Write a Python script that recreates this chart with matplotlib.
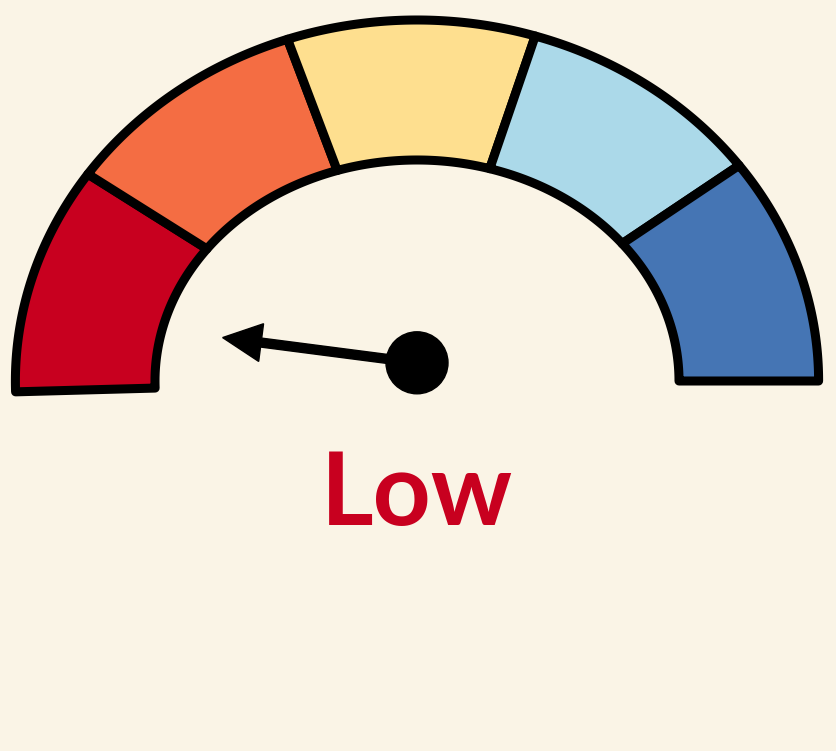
import numpy as np
import matplotlib
matplotlib.use("Agg")
import matplotlib.pyplot as plt
from matplotlib.patches import Polygon, Circle, FancyArrow

# ---- data ----
segment_edges = [0, 20, 40, 60, 80, 100]
segment_colors = ["#c8001f", "#f46d43", "#fedf8f", "#abd9e9", "#4575b4"]
segment_labels = ["Low", "Below average", "Average", "Above average", "High"]
needle_value = 5.4

BG = "#faf4e6"

fig = plt.figure(figsize=(8.36, 7.51), dpi=100, facecolor=BG)
ax = fig.add_axes([0, 0, 1, 1])
ax.set_facecolor(BG)
ax.set_xlim(-417 / 400, 419 / 400)
ax.set_ylim(-370 / 400, 381 / 400)
ax.axis("off")

K = 0.91
START, SPAN = 181.7, 181.7


def apparent(v):
    th = np.radians(START - SPAN * np.asarray(v, dtype=float) / 100.0)
    return np.arctan2(K * np.sin(th), np.cos(th))


def ellipse_pts(phi, rx, ry):
    r = 1.0 / np.sqrt((np.cos(phi) / rx) ** 2 + (np.sin(phi) / ry) ** 2)
    return np.column_stack([r * np.cos(phi), r * np.sin(phi)])


OUT = (1.004, 0.9025)
INN = (0.655, 0.5525)

for lo, hi, col in zip(segment_edges[:-1], segment_edges[1:], segment_colors):
    vs = np.linspace(lo, hi, 120)
    phi = apparent(vs)
    outer = ellipse_pts(phi, *OUT)
    inner = ellipse_pts(phi[::-1], *INN)
    pts = np.vstack([outer, inner])
    ax.add_patch(Polygon(pts, closed=True, facecolor=col, edgecolor="black",
                         linewidth=6.5, joinstyle="round", zorder=2))

# needle
hub = (0.0, 0.0455)
phn = float(apparent(needle_value))
L = 0.49
ax.add_patch(FancyArrow(hub[0], hub[1], L * np.cos(phn), L * np.sin(phn),
                        width=0.0225, head_width=0.095, head_length=0.097,
                        length_includes_head=True, color="black", zorder=4))
ax.add_patch(Circle(hub, 0.0775, color="black", zorder=5))

# label
idx = int(np.searchsorted(segment_edges, needle_value, side="right") - 1)
idx = min(max(idx, 0), len(segment_labels) - 1)
ax.text(0.0, -0.36, segment_labels[idx], ha="center", va="baseline",
        fontsize=73, fontweight="bold", family=["Lato", "DejaVu Sans"],
        color=segment_colors[idx], zorder=6)

fig.savefig("out.png", dpi=100, facecolor=BG)
